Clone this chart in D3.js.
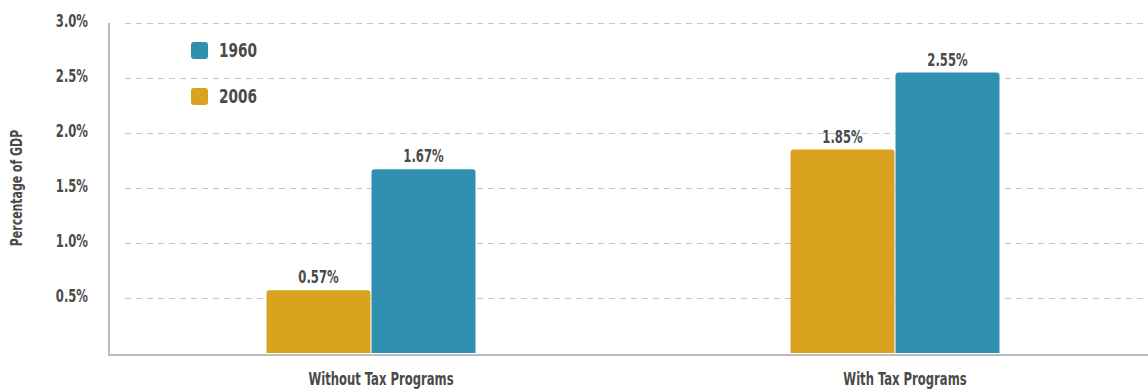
<!DOCTYPE html>
<html>
<head>
<meta charset="utf-8">
<script src="https://cdn.jsdelivr.net/npm/d3@7"></script>
<style>
  html, body { margin: 0; padding: 0; background: #fff; }
  svg { display: block; }
  text { font-family: "DejaVu Sans Condensed", "DejaVu Sans", sans-serif; font-stretch: condensed; font-weight: bold; fill: #4a4a4a; }
</style>
</head>
<body>
<svg id="chart" width="1148" height="390"></svg>
<script>
// Spending as a share of GDP, by program grouping and year
const categories = ["Without Tax Programs", "With Tax Programs"];
const years = ["2006", "1960"];
const values2006 = [0.57, 1.85];
const values1960 = [1.67, 2.55];
const yTicks = [0.5, 1.0, 1.5, 2.0, 2.5, 3.0];
const legendYears = ["1960", "2006"];

const colors = { "1960": "#3190b0", "2006": "#d9a21f" };
const seriesByYear = { "2006": values2006, "1960": values1960 };

const W = 1148, H = 390;
const margin = { left: 109, top: 23, bottom: 353 };
const narrow = 0.76; // horizontal squeeze for a condensed look

const svg = d3.select("#chart");

// text helper: places a label and squeezes it horizontally around its anchor
function label(parent, x, yPos, str, size, anchor) {
  return parent.append("text")
    .attr("transform", `translate(${x},${yPos}) scale(${narrow},1)`)
    .attr("text-anchor", anchor || "start")
    .attr("font-size", size)
    .text(str);
}

const y = d3.scaleLinear().domain([0, 3]).range([margin.bottom, margin.top]);
const x0 = d3.scaleBand().domain(categories).range([margin.left, margin.left + 1048]).padding(0);
const x1 = d3.scaleBand().domain(years).range([0, x0.bandwidth()]).paddingInner(0.01).paddingOuter(1.5);

// dashed gridlines
svg.append("g")
  .selectAll("line")
  .data(yTicks)
  .join("line")
  .attr("x1", margin.left + 16)
  .attr("x2", W)
  .attr("y1", d => Math.round(y(d)) + 0.5)
  .attr("y2", d => Math.round(y(d)) + 0.5)
  .attr("stroke", "#c4c4c4")
  .attr("stroke-width", 1)
  .attr("stroke-dasharray", "6,5");

// y tick labels
const tickG = svg.append("g");
yTicks.forEach(t => label(tickG, 88, y(t) + 4, t.toFixed(1) + "%", 17, "end"));

// bars
const bars = [];
categories.forEach((c, i) => {
  years.forEach(yr => bars.push({ cat: c, year: yr, value: seriesByYear[yr][i] }));
});

const barG = svg.append("g");
bars.forEach(b => {
  const bx = x0(b.cat) + x1(b.year);
  const bw = x1.bandwidth();
  const top = y(b.value);
  const r = 3;
  const p = d3.path();
  p.moveTo(bx, y(0));
  p.lineTo(bx, top + r);
  p.quadraticCurveTo(bx, top, bx + r, top);
  p.lineTo(bx + bw - r, top);
  p.quadraticCurveTo(bx + bw, top, bx + bw, top + r);
  p.lineTo(bx + bw, y(0));
  p.closePath();
  barG.append("path").attr("d", p.toString()).attr("fill", colors[b.year]);
  label(barG, bx + bw / 2, top - 7, b.value.toFixed(2) + "%", 17, "middle");
});

// axis lines
svg.append("line")
  .attr("x1", margin.left).attr("x2", margin.left)
  .attr("y1", margin.top).attr("y2", margin.bottom + 2)
  .attr("stroke", "#bcbcc0").attr("stroke-width", 2);
svg.append("line")
  .attr("x1", margin.left - 1).attr("x2", W)
  .attr("y1", margin.bottom + 2).attr("y2", margin.bottom + 2)
  .attr("stroke", "#bcbcc0").attr("stroke-width", 2);

// category labels
const catG = svg.append("g");
categories.forEach(c => label(catG, x0(c) + x0.bandwidth() / 2 + 10, 385, c, 17, "middle"));

// y axis title
svg.append("text")
  .attr("transform", `translate(22, ${(margin.top + margin.bottom) / 2}) rotate(-90) scale(${narrow},1)`)
  .attr("text-anchor", "middle")
  .attr("font-size", 16)
  .text("Percentage of GDP");

// legend
const legend = svg.append("g")
  .selectAll("g")
  .data(legendYears)
  .join("g")
  .attr("transform", (d, i) => `translate(191, ${42 + i * 46})`);
legend.append("rect")
  .attr("width", 17).attr("height", 17).attr("rx", 3)
  .attr("fill", d => colors[d]);
legend.each(function (d) { label(d3.select(this), 28, 15, d, 20, "start"); });
</script>
</body>
</html>
